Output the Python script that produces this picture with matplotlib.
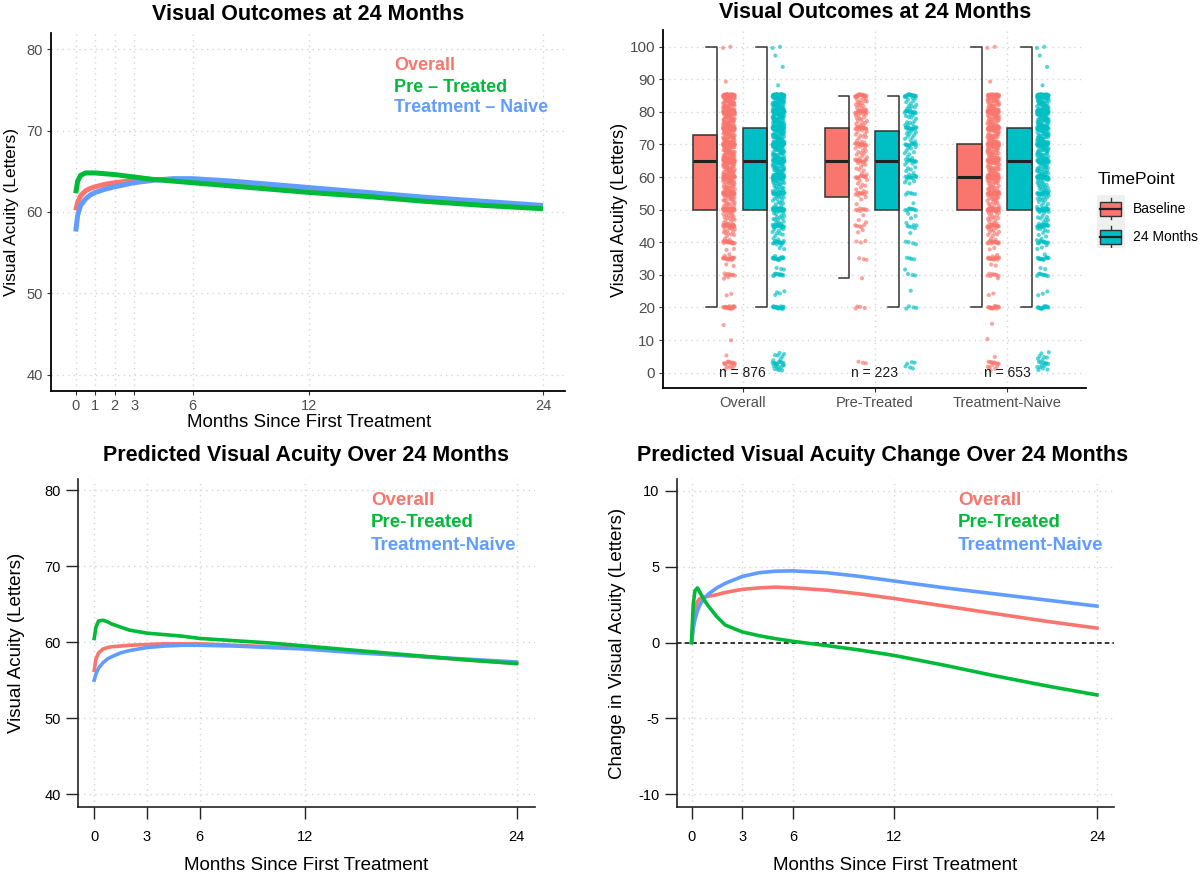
import numpy as np
import matplotlib.pyplot as plt
from matplotlib.patches import Rectangle

plt.rcParams['font.family'] = ['Liberation Sans', 'DejaVu Sans']
plt.rcParams['axes.unicode_minus'] = False

RED = '#F8766D'
GREEN = '#00BA38'
BLUE = '#619CFF'
TEAL = '#00BFC4'

# ---------------- data ----------------
# top-left: modelled visual acuity (letters) by month
months = [0, 0.1, 0.25, 0.5, 0.75, 1, 1.5, 2, 3, 4, 5, 6, 8, 10, 12, 15, 18, 21, 24]
a_overall = [60.2, 61.2, 62.0, 62.6, 62.9, 63.1, 63.4, 63.6, 63.9, 64.0, 64.0, 63.9,
             63.6, 63.2, 62.8, 62.2, 61.6, 61.1, 60.6]
a_pretreated = [62.3, 63.8, 64.5, 64.8, 64.8, 64.8, 64.7, 64.6, 64.3, 64.0, 63.8, 63.6,
                63.2, 62.8, 62.4, 61.9, 61.3, 60.8, 60.4]
a_naive = [57.6, 59.6, 60.8, 61.6, 62.1, 62.4, 62.8, 63.1, 63.6, 63.9, 64.1, 64.1,
           63.8, 63.4, 63.0, 62.4, 61.8, 61.3, 60.8]

# bottom-left: predicted visual acuity
c_overall = [56.3, 57.8, 58.6, 59.1, 59.3, 59.4, 59.5, 59.6, 59.7, 59.8, 59.8, 59.8,
             59.6, 59.4, 59.2, 58.7, 58.2, 57.7, 57.2]
c_pretreated = [60.5, 62.0, 62.8, 62.9, 62.7, 62.4, 62.0, 61.6, 61.2, 61.0, 60.8, 60.5,
                60.2, 59.9, 59.5, 58.9, 58.3, 57.7, 57.2]
c_naive = [55.0, 55.8, 56.6, 57.3, 57.8, 58.1, 58.6, 58.9, 59.3, 59.5, 59.6, 59.6,
           59.5, 59.3, 59.1, 58.6, 58.2, 57.8, 57.4]

# bottom-right: predicted change in visual acuity
d_months = [0, 0.1, 0.2, 0.35, 0.5, 0.75, 1, 1.5, 2, 3, 4, 5, 6, 8, 10, 12, 15, 18, 21, 24]
d_overall = [0, 1.3, 2.2, 2.7, 2.9, 3.0, 3.05, 3.15, 3.3, 3.5, 3.6, 3.65, 3.6, 3.45,
             3.2, 2.9, 2.4, 1.9, 1.4, 0.95]
d_pretreated = [0, 2.5, 3.4, 3.6, 3.3, 2.8, 2.4, 1.7, 1.15, 0.7, 0.45, 0.25, 0.08, -0.2,
                -0.5, -0.85, -1.5, -2.2, -2.85, -3.45]
d_naive = [0, 0.9, 1.5, 2.1, 2.5, 2.9, 3.2, 3.6, 3.9, 4.35, 4.6, 4.7, 4.72, 4.6,
           4.35, 4.05, 3.6, 3.2, 2.8, 2.4]

# top-right: box plots
groups = ['Overall', 'Pre-Treated', 'Treatment-Naive']
n_patients = [876, 223, 653]
base_q1 = [50, 54, 50]
base_med = [65, 65, 60]
base_q3 = [73, 75, 70]
base_lo = [20, 29, 20]
base_hi = [100, 85, 100]
m24_q1 = [50, 50, 50]
m24_med = [65, 65, 65]
m24_q3 = [75, 74, 75]
m24_lo = [20, 20, 20]
m24_hi = [100, 85, 100]

# individual letter scores (levels and how many eyes at each level)
va_levels = [100, 97, 94, 89, 88,
             85, 84, 83, 82, 81, 80, 79, 78, 77, 76,
             75, 74, 73, 72, 71, 70, 69, 68, 67, 66,
             65, 64, 63, 62, 61, 60, 59, 58, 57, 56,
             55, 54, 53, 52, 51, 50, 49, 48, 47, 46,
             45, 44, 43, 42, 41, 40, 39, 38, 36, 35,
             33, 32, 30, 29, 25, 24, 20, 15, 10, 6,
             5, 4, 3, 2, 1]
pt_base_n = [0, 0, 0, 0, 0,
             16, 4, 5, 4, 4, 14, 4, 4, 4, 3,
             14, 3, 3, 3, 3, 12, 3, 3, 3, 3,
             12, 3, 2, 2, 2, 10, 2, 2, 2, 2,
             8, 2, 1, 1, 0, 8, 0, 1, 1, 1,
             5, 1, 1, 0, 0, 3, 0, 0, 0, 3,
             0, 0, 0, 1, 0, 0, 4, 0, 0, 0,
             0, 0, 3, 0, 0]
pt_24_n = [0, 0, 0, 0, 0,
           14, 3, 3, 3, 3, 12, 3, 3, 3, 3,
           12, 3, 3, 3, 2, 10, 3, 2, 2, 2,
           10, 2, 2, 2, 2, 10, 2, 2, 0, 0,
           5, 0, 0, 1, 0, 8, 1, 1, 1, 1,
           5, 1, 1, 0, 0, 3, 1, 0, 0, 4,
           0, 1, 3, 0, 1, 0, 4, 0, 0, 0,
           0, 0, 3, 2, 1]
tn_base_n = [2, 0, 0, 1, 0,
             30, 8, 8, 8, 8, 30, 8, 8, 8, 8,
             32, 8, 8, 8, 8, 32, 8, 8, 8, 8,
             32, 8, 8, 8, 8, 30, 8, 6, 6, 6,
             26, 6, 6, 5, 4, 28, 4, 4, 4, 3,
             18, 4, 3, 3, 2, 14, 0, 2, 2, 14,
             2, 0, 8, 1, 0, 2, 14, 1, 1, 0,
             1, 0, 8, 4, 2]
tn_24_n = [2, 1, 1, 0, 1,
           36, 10, 10, 10, 10, 34, 10, 10, 10, 10,
           30, 9, 9, 9, 9, 28, 8, 8, 8, 8,
           26, 7, 7, 7, 7, 24, 6, 5, 5, 5,
           18, 4, 4, 3, 3, 20, 3, 3, 3, 3,
           14, 3, 2, 2, 2, 10, 1, 2, 1, 12,
           0, 2, 8, 0, 1, 2, 14, 0, 0, 2,
           3, 2, 6, 4, 3]
# overall = pre-treated + treatment-naive
ov_base_n = [p + t for p, t in zip(pt_base_n, tn_base_n)]
ov_24_n = [p + t for p, t in zip(pt_24_n, tn_24_n)]
base_counts = [ov_base_n, pt_base_n, tn_base_n]
m24_counts = [ov_24_n, pt_24_n, tn_24_n]

# ---------------- figure ----------------
W, H = 1200, 877
fig = plt.figure(figsize=(W / 100, H / 100), dpi=100)


def px_axes(l, t, r, b):
    return fig.add_axes([l / W, 1 - b / H, (r - l) / W, (b - t) / H])


def ftext(x, y, s, **kw):
    kw.setdefault('ha', 'center')
    kw.setdefault('va', 'center')
    fig.text(x / W, 1 - y / H, s, **kw)


GRID = dict(color='#D4D4D4', linestyle=(0, (1, 3)), linewidth=1.0)


def gg_style(ax):
    for s in ['top', 'right']:
        ax.spines[s].set_visible(False)
    for s in ['left', 'bottom']:
        ax.spines[s].set_linewidth(1.3)
        ax.spines[s].set_color('black')
    ax.tick_params(length=3, width=0.8, color='#333333', labelcolor='#4D4D4D',
                   labelsize=10.5, pad=3)
    ax.grid(True, **GRID)
    ax.set_axisbelow(True)


def base_style(ax):
    for s in ['top', 'right']:
        ax.spines[s].set_visible(False)
    for s in ['left', 'bottom']:
        ax.spines[s].set_linewidth(1.2)
        ax.spines[s].set_color('#222222')
    ax.tick_params(length=8.5, width=1.0, color='#222222', labelcolor='black',
                   labelsize=10.5)
    ax.tick_params(axis='x', pad=8)
    ax.tick_params(axis='y', pad=4)
    ax.grid(True, **GRID)
    ax.set_axisbelow(True)


def series_labels(ax, x, ys, names, size):
    for y, name, col in zip(ys, names, [RED, GREEN, BLUE]):
        ax.text(x, y, name, transform=ax.transAxes, color=col, fontsize=size,
                fontweight='bold', ha='left', va='center')


# ---- top-left ----
ax1 = px_axes(51, 33, 565, 391)
ax1.set_xlim(-1.27, 25.13)
ax1.set_ylim(38, 82)
ax1.set_xticks([0, 1, 2, 3, 6, 12, 24])
ax1.set_yticks([40, 50, 60, 70, 80])
gg_style(ax1)
for ys, col in [(a_overall, RED), (a_naive, BLUE), (a_pretreated, GREEN)]:
    ax1.plot(months, ys, color=col, lw=3.6, solid_capstyle='butt')
series_labels(ax1, 0.667, [0.908, 0.849, 0.793],
              ['Overall', 'Pre \u2013 Treated', 'Treatment \u2013 Naive'], 13)
ftext(308, 14, 'Visual Outcomes at 24 Months', fontsize=15.5, fontweight='bold')
ftext(12, 212, 'Visual Acuity (Letters)', fontsize=12.5, rotation=90)
ftext(309, 422, 'Months Since First Treatment', fontsize=13.5)

# ---- top-right ----
ax2 = px_axes(663.5, 30, 1086.5, 388)
ax2.set_xlim(0.4, 3.6)
ax2.set_ylim(-4.7, 105.1)
ax2.set_xticks([1, 2, 3])
ax2.set_xticklabels(groups)
ax2.set_yticks(range(0, 101, 10))
gg_style(ax2)
ax2.tick_params(axis='y', labelsize=11)
ax2.tick_params(axis='x', labelsize=10.5)

EDGE = '#333333'


def draw_box(ax, left, width, q1, med, q3, lo, hi, col):
    right = left + width
    ax.add_patch(Rectangle((left, q1), width, q3 - q1, facecolor=col,
                           edgecolor=EDGE, lw=1.1, zorder=3))
    ax.plot([left, right], [med, med], color='#222222', lw=2.2, zorder=4,
            solid_capstyle='butt')
    ax.plot([right - 0.082, right, right, right - 0.082], [hi, hi, lo, lo],
            color=EDGE, lw=1.1, zorder=4)


def draw_points(ax, centre, counts, col):
    vals = np.repeat(va_levels, counts).astype(float)
    k = np.arange(len(vals))
    dx = ((k * 0.618034) % 1 - 0.5) * 0.09
    dy = ((k * 0.414214) % 1 - 0.5) * 0.8
    ax.scatter(centre + dx, vals + dy, s=9, color=col, alpha=0.65,
               edgecolors='none', zorder=2)


for i in range(3):
    c = i + 1
    draw_box(ax2, c - 0.378, 0.184, base_q1[i], base_med[i], base_q3[i],
             base_lo[i], base_hi[i], RED)
    draw_box(ax2, c, 0.184, m24_q1[i], m24_med[i], m24_q3[i],
             m24_lo[i], m24_hi[i], TEAL)
    draw_points(ax2, c - 0.105, base_counts[i], RED)
    draw_points(ax2, c + 0.27, m24_counts[i], TEAL)
    ax2.text(c, 0, 'n = %d' % n_patients[i], ha='center', va='center',
             fontsize=10, color='#1A1A1A', zorder=5)

ftext(875, 12, 'Visual Outcomes at 24 Months', fontsize=15.5, fontweight='bold')
ftext(619, 210, 'Visual Acuity (Letters)', fontsize=13, rotation=90)

# legend for the box plot
ftext(1098, 179, 'TimePoint', fontsize=12.5, ha='left')
lax = px_axes(1097, 195, 1125, 248)
lax.set_xlim(1097, 1125)
lax.set_ylim(248, 195)
lax.axis('off')
lax.add_patch(Rectangle((1097, 195), 28, 53, facecolor='#EFEFEF', edgecolor='none'))
for col, top, bot, med, wt, wb in [(RED, 201.7, 215.7, 209, 197.7, 219),
                                   (TEAL, 230, 244, 237, 225.7, 247)]:
    lax.plot([1110.5, 1110.5], [wt, wb], color=EDGE, lw=1.0)
    lax.add_patch(Rectangle((1100, top), 21, bot - top, facecolor=col,
                            edgecolor=EDGE, lw=1.0, zorder=3))
    lax.plot([1100, 1121], [med, med], color='#222222', lw=1.6, zorder=4)
ftext(1133, 209, 'Baseline', fontsize=10, ha='left')
ftext(1133, 237, '24 Months', fontsize=10, ha='left')

# ---- bottom-left ----
ax3 = px_axes(78, 479, 535, 807)
ax3.set_xlim(-0.92, 25.05)
ax3.set_ylim(38.3, 81.5)
ax3.set_xticks([0, 3, 6, 12, 24])
ax3.set_yticks([40, 50, 60, 70, 80])
base_style(ax3)
for ys, col in [(c_overall, RED), (c_naive, BLUE), (c_pretreated, GREEN)]:
    ax3.plot(months, ys, color=col, lw=2.6)
series_labels(ax3, 0.641, [0.933, 0.866, 0.797],
              ['Overall', 'Pre-Treated', 'Treatment-Naive'], 13.5)
ftext(306, 455, 'Predicted Visual Acuity Over 24 Months', fontsize=15.5,
      fontweight='bold')
ftext(17, 643, 'Visual Acuity (Letters)', fontsize=13.5, rotation=90)
ftext(306, 866, 'Months Since First Treatment', fontsize=13.5)

# ---- bottom-right ----
ax4 = px_axes(677, 479, 1113.5, 807)
ax4.set_xlim(-0.86, 24.98)
ax4.set_ylim(-10.83, 10.77)
ax4.set_xticks([0, 3, 6, 12, 24])
ax4.set_yticks([-10, -5, 0, 5, 10])
base_style(ax4)
ax4.axhline(0, color='black', lw=1.1, linestyle=(0, (3, 2)), zorder=2)
for ys, col in [(d_overall, RED), (d_naive, BLUE), (d_pretreated, GREEN)]:
    ax4.plot(d_months, ys, color=col, lw=2.6, zorder=3)
series_labels(ax4, 0.644, [0.933, 0.866, 0.797],
              ['Overall', 'Pre-Treated', 'Treatment-Naive'], 13.5)
ftext(883, 455, 'Predicted Visual Acuity Change Over 24 Months', fontsize=15.5,
      fontweight='bold')
ftext(617, 643, 'Change in Visual Acuity (Letters)', fontsize=13.5, rotation=90)
ftext(895, 866, 'Months Since First Treatment', fontsize=13.5)

fig.savefig('out.png', dpi=100)
